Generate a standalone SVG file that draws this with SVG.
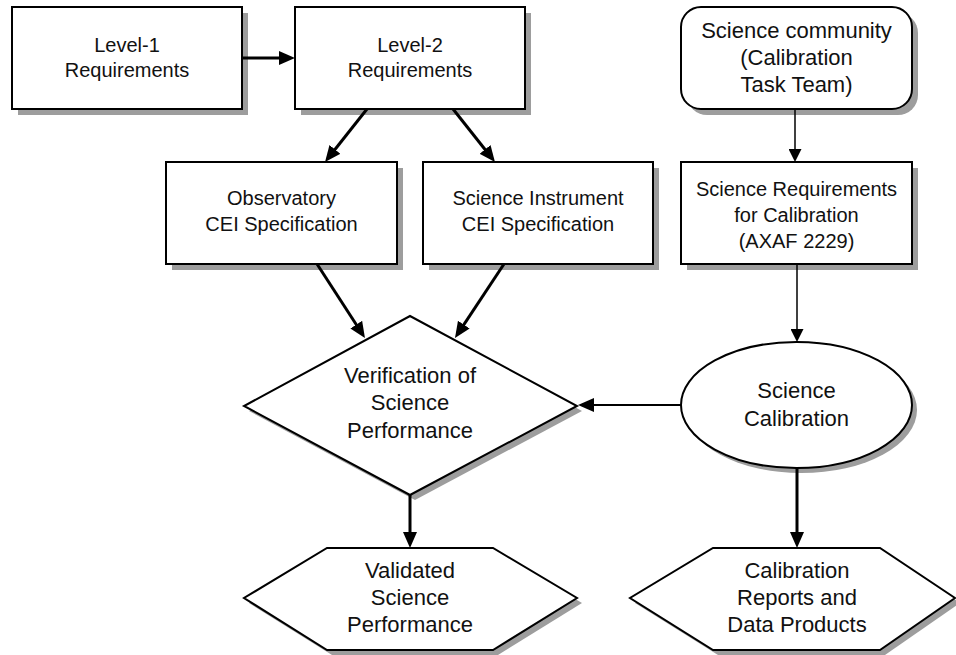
<svg xmlns="http://www.w3.org/2000/svg" width="956" height="655" viewBox="0 0 956 655">
<defs>
<style>
.shape{fill:#fff;stroke:#000;stroke-width:2}
.shadow{fill:#9d9d9d;stroke:none}
.lbl{font-family:"Liberation Sans",Arial,sans-serif;font-size:20px;fill:#111;text-anchor:middle}
.big{font-size:22px}
.thick{stroke:#000;stroke-width:3;fill:none}
.mid{stroke:#000;stroke-width:2;fill:none}
.thin{stroke:#000;stroke-width:1.5;fill:none}
</style>
<marker id="ah" markerUnits="userSpaceOnUse" markerWidth="16" markerHeight="14" refX="8" refY="7" orient="auto">
<path d="M0,0 L16,7 L0,14 z" fill="#000"/>
</marker>
<marker id="ahs" markerUnits="userSpaceOnUse" markerWidth="13" markerHeight="13" refX="5" refY="6.5" orient="auto">
<path d="M0,0 L13,6.5 L0,13 z" fill="#000"/>
</marker>
</defs>
<rect width="956" height="655" fill="#fff"/>

<g id="level1">
<rect class="shadow" x="18" y="13" width="230" height="102"/>
<rect class="shape" x="12" y="7" width="230" height="102"/>
<text class="lbl" x="127" y="52">Level-1</text>
<text class="lbl" x="127" y="77">Requirements</text>
</g>

<g id="level2">
<rect class="shadow" x="301" y="13" width="230" height="102"/>
<rect class="shape" x="295" y="7" width="230" height="102"/>
<text class="lbl" x="410" y="52">Level-2</text>
<text class="lbl" x="410" y="77">Requirements</text>
</g>

<g id="scicomm">
<rect class="shadow" x="687" y="13" width="231" height="102" rx="20"/>
<rect class="shape" x="681" y="7" width="231" height="102" rx="20"/>
<text class="lbl big" x="796.5" y="38">Science community</text>
<text class="lbl big" x="796.5" y="65">(Calibration</text>
<text class="lbl big" x="796.5" y="92">Task Team)</text>
</g>

<g id="obs">
<rect class="shadow" x="172" y="168" width="231" height="102"/>
<rect class="shape" x="166" y="162" width="231" height="102"/>
<text class="lbl" x="281.5" y="205">Observatory</text>
<text class="lbl" x="281.5" y="231">CEI Specification</text>
</g>

<g id="sci">
<rect class="shadow" x="429" y="168" width="230" height="102"/>
<rect class="shape" x="423" y="162" width="230" height="102"/>
<text class="lbl" x="538" y="205">Science Instrument</text>
<text class="lbl" x="538" y="231">CEI Specification</text>
</g>

<g id="scireq">
<rect class="shadow" x="687" y="168" width="231" height="102"/>
<rect class="shape" x="681" y="162" width="231" height="102"/>
<text class="lbl" x="796.5" y="196">Science Requirements</text>
<text class="lbl" x="796.5" y="222">for Calibration</text>
<text class="lbl" x="796.5" y="248">(AXAF 2229)</text>
</g>

<g id="verify">
<polygon class="shadow" points="415,321 582,411 415,500 249,411"/>
<polygon class="shape" points="410,316 577,406 410,495 244,406"/>
<text class="lbl big" x="410" y="383">Verification of</text>
<text class="lbl big" x="410" y="410">Science</text>
<text class="lbl big" x="410" y="438">Performance</text>
</g>

<g id="calib">
<ellipse class="shadow" cx="801.5" cy="410" rx="115.5" ry="63"/>
<ellipse class="shape" cx="796.5" cy="405" rx="115.5" ry="63"/>
<text class="lbl big" x="796.5" y="398">Science</text>
<text class="lbl big" x="796.5" y="426">Calibration</text>
</g>

<g id="validated">
<polygon class="shadow" points="332,553 498,553 582,603 498,655 332,655 249,603"/>
<polygon class="shape" points="327,548 493,548 577,598 493,650 327,650 244,598"/>
<text class="lbl big" x="410" y="578">Validated</text>
<text class="lbl big" x="410" y="605">Science</text>
<text class="lbl big" x="410" y="632">Performance</text>
</g>

<g id="products">
<polygon class="shadow" points="718,553 885,553 960,603 885,655 718,655 635,603"/>
<polygon class="shape" points="713,548 880,548 955,598 880,650 713,650 630,598"/>
<text class="lbl big" x="797" y="578">Calibration</text>
<text class="lbl big" x="797" y="605">Reports and</text>
<text class="lbl big" x="797" y="632">Data Products</text>
</g>

<g id="connectors">
<line class="thick" x1="242" y1="58" x2="287" y2="58" marker-end="url(#ah)"/>
<line class="thick" x1="367" y1="109" x2="330" y2="155.7" marker-end="url(#ah)"/>
<line class="thick" x1="453" y1="109" x2="490" y2="155.7" marker-end="url(#ah)"/>
<line class="thick" x1="317" y1="264" x2="360.6" y2="331.3" marker-end="url(#ah)"/>
<line class="thick" x1="504" y1="264" x2="459.4" y2="331.3" marker-end="url(#ah)"/>
<line class="thin" x1="795" y1="109" x2="795" y2="154" marker-end="url(#ahs)"/>
<line class="thin" x1="797" y1="264" x2="797" y2="334" marker-end="url(#ahs)"/>
<line class="mid" x1="681" y1="405" x2="586" y2="405" marker-end="url(#ah)"/>
<line class="thick" x1="410" y1="495" x2="410" y2="540" marker-end="url(#ah)"/>
<line class="thick" x1="797" y1="468" x2="797" y2="540" marker-end="url(#ah)"/>
</g>
</svg>
